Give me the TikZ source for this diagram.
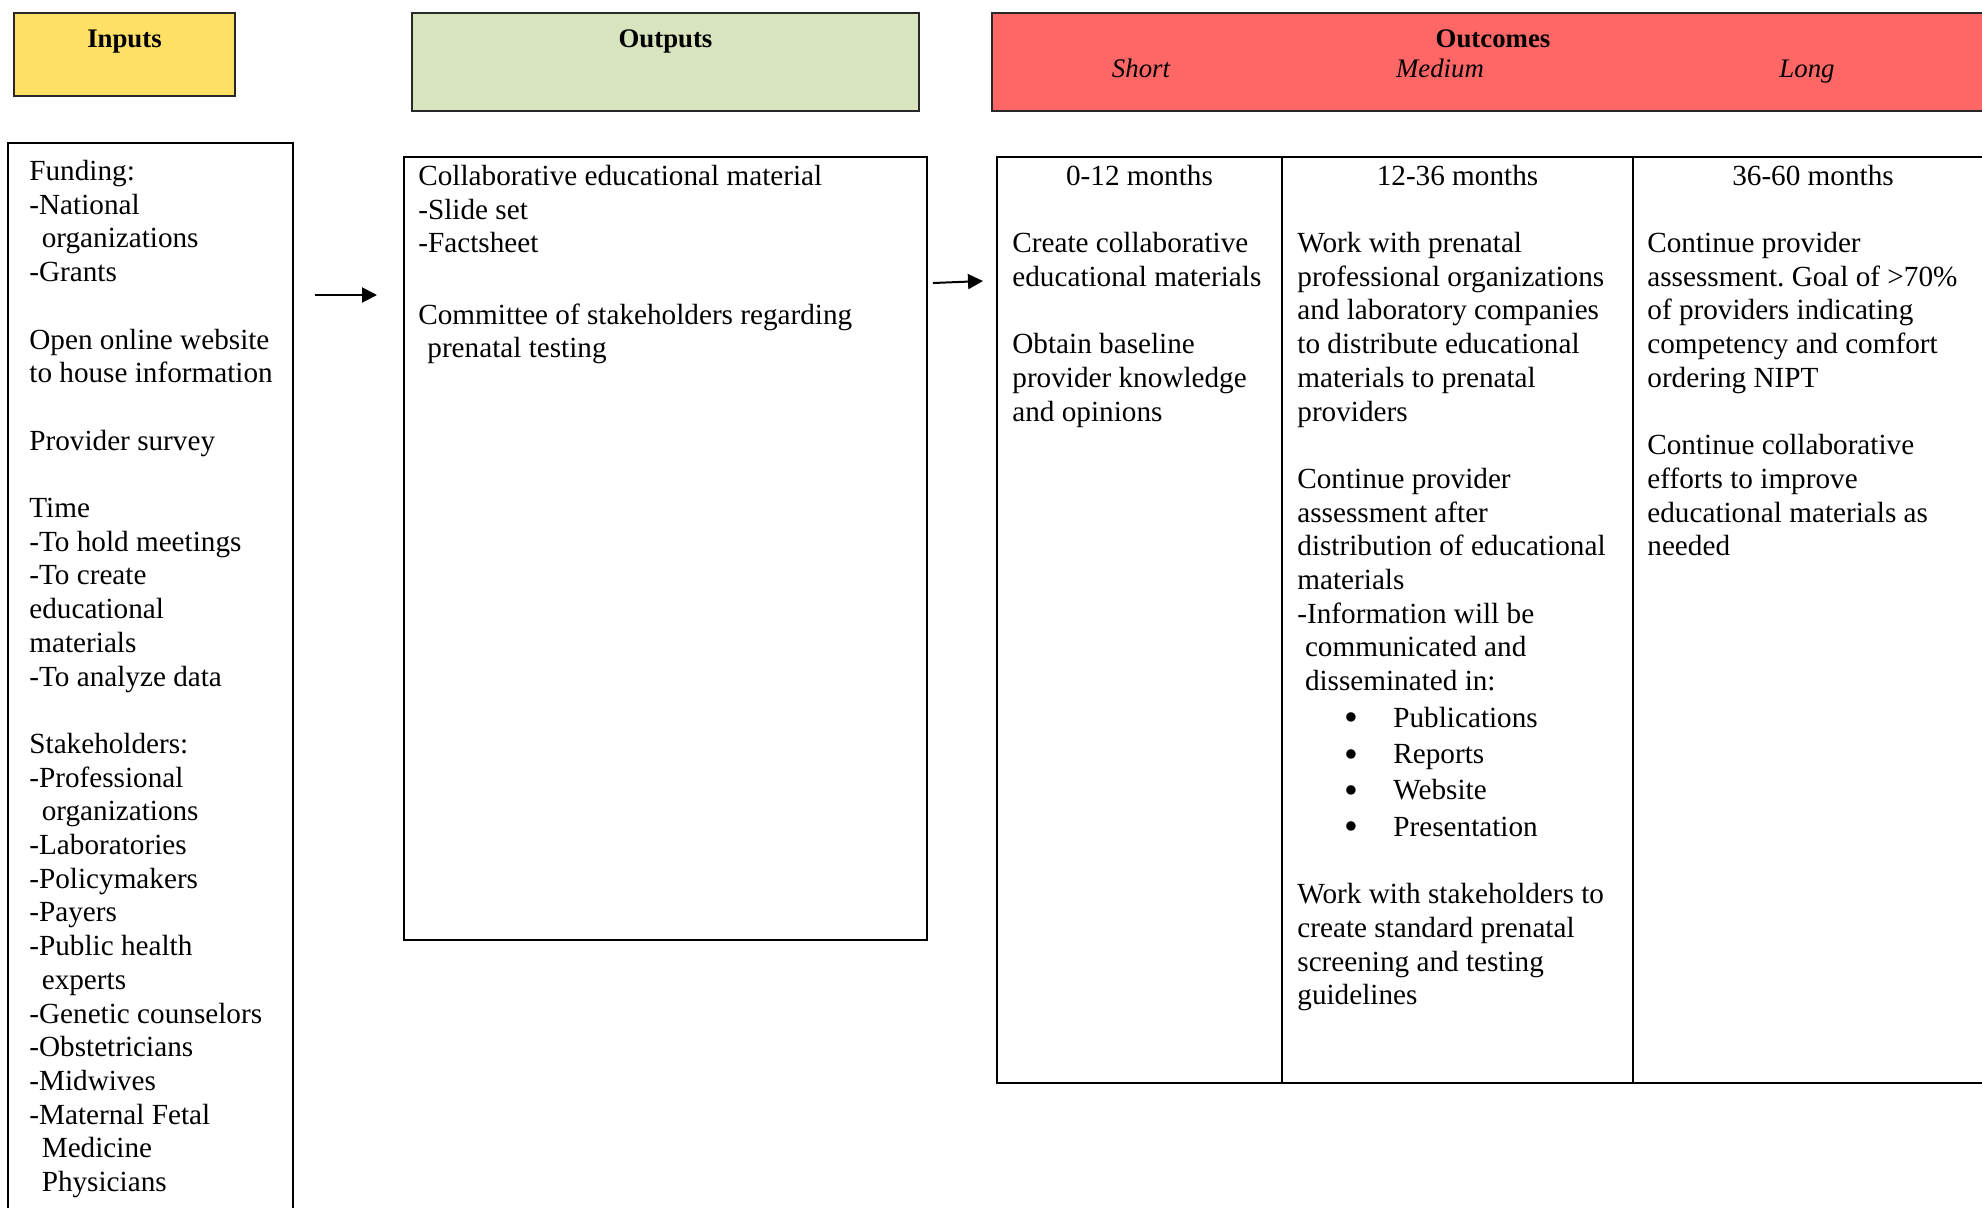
\documentclass[tikz,border=0pt]{standalone}
\usepackage{fontspec}
\usepackage{graphicx}
\setmainfont{Liberation Serif}
\usetikzlibrary{arrows.meta}
\definecolor{inyellow}{RGB}{255,224,102}
\definecolor{outgreen}{RGB}{215,228,189}
\definecolor{outcred}{RGB}{255,102,102}
\definecolor{hdrline}{RGB}{40,40,40}
\newcommand\bul[1]{\hspace*{23.5pt}\makebox[24.5pt][l]{\raisebox{-1.7pt}{\scalebox{1.35}{•}}}#1}
\frenchspacing
\begin{document}
\begin{tikzpicture}[x=0.5pt,y=-0.5pt,
  body/.style={font=\fontsize{14.6pt}{16.85pt}\selectfont\frenchspacing, inner sep=0pt, anchor=north west, align=left},
  colhead/.style={font=\fontsize{14.6pt}{16.85pt}\selectfont, inner sep=0pt, anchor=base},
  hdrtext/.style={font=\fontsize{13.4pt}{15.4pt}\selectfont\bfseries, inner sep=0pt, anchor=base},
  subtext/.style={font=\fontsize{13.4pt}{15.4pt}\selectfont\itshape, inner sep=0pt, anchor=base},
  hdrbox/.style={draw=hdrline, line width=1pt, anchor=north west, inner sep=0pt, outer sep=0pt},
  bodybox/.style={draw=black, line width=1.2pt, anchor=north west, inner sep=0pt, outer sep=0pt},
  flow/.style={line width=1pt, -{Triangle[length=7.5pt,width=7.5pt]}}
]
\useasboundingbox (0,0) rectangle (1982,1207);

% header boxes
\node[hdrbox, fill=inyellow, minimum width=110.5pt, minimum height=41.7pt] (inhdr) at (14,12.6) {};
\node[hdrbox, fill=outgreen, minimum width=253.5pt, minimum height=49.2pt] (outhdr) at (412,12.6) {};
\node[hdrbox, fill=outcred, minimum width=501pt, minimum height=49.2pt] (ochdr) at (992,12.6) {};

\node[hdrtext] (tin) at (124.5,47) {Inputs};
\node[hdrtext] (tout) at (665.5,47) {Outputs};
\node[hdrtext] (toc) at (1493,47) {Outcomes};
\node[subtext] (tshort) at (1141,77) {Short};
\node[subtext] (tmed) at (1440,77) {Medium};
\node[subtext] (tlong) at (1807,77) {Long};

% body boxes
\node[bodybox, line width=0.9pt, minimum width=142.5pt, minimum height=550pt] (inbox) at (8,143) {};
\node[bodybox, minimum width=261.5pt, minimum height=391.5pt] (outbox) at (404,157) {};
\node[bodybox, minimum width=498pt, minimum height=463pt] (tbl) at (997,157) {};
\draw[line width=1.2pt] (1282,157) -- (1282,1083);
\draw[line width=1.2pt] (1633,157) -- (1633,1083);

% arrows
\coordinate (a1s) at (315,295);
\coordinate (a1e) at (377,295);
\coordinate (a2s) at (933,283);
\coordinate (a2e) at (983,281);
\draw[flow] (a1s) -- (a1e);
\draw[flow] (a2s) -- (a2e);

% inputs text
\node[body] (intext) at (29,156.5) {\strut Funding:\\
-National\\
\hspace*{6.2pt}organizations\\
-Grants\\[16.85pt]
Open online website\\
to house information\\[16.85pt]
Provider survey\\[16.85pt]
Time\\
-To hold meetings\\
-To create\\
educational\\
materials\\
-To analyze data\\[16.85pt]
Stakeholders:\\
-Professional\\
\hspace*{6.2pt}organizations\\
-Laboratories\\
-Policymakers\\
-Payers\\
-Public health\\
\hspace*{6.2pt}experts\\
-Genetic counselors\\
-Obstetricians\\
-Midwives\\
-Maternal Fetal\\
\hspace*{6.2pt}Medicine\\
\hspace*{6.2pt}Physicians};

% outputs text
\node[body] (outtext) at (418,161.5) {\strut Collaborative educational material\\
-Slide set\\
-Factsheet\\[18.7pt]
Committee of stakeholders regarding\\
\hspace*{4.5pt}prenatal testing};

% table column heads
\node[colhead] (h1) at (1139.5,185) {0-12 months};
\node[colhead] (h2) at (1457.5,185) {12-36 months};
\node[colhead] (h3) at (1813,185) {36-60 months};

% short
\node[body] (shorttext) at (1012,228.5) {\strut Create collaborative\\
educational materials\\[16.85pt]
Obtain baseline\\
provider knowledge\\
and opinions};

% medium
\node[body] (medtext) at (1297,228.5) {\strut Work with prenatal\\
professional organizations\\
and laboratory companies\\
to distribute educational\\
materials to prenatal\\
providers\\[16.85pt]
Continue provider\\
assessment after\\
distribution of educational\\
materials\\
-Information will be\\
\hspace*{3.8pt}communicated and\\
\hspace*{3.8pt}disseminated in:\\[1.5pt]
\bul{Publications}\\[1.3pt]
\bul{Reports}\\[1.3pt]
\bul{Website}\\[1.3pt]
\bul{Presentation}\\[16.85pt]
Work with stakeholders to\\
create standard prenatal\\
screening and testing\\
guidelines};

% long
\node[body] (longtext) at (1647,228.5) {\strut Continue provider\\
assessment. Goal of >70\%\\
of providers indicating\\
competency and comfort\\
ordering NIPT\\[16.85pt]
Continue collaborative\\
efforts to improve\\
educational materials as\\
needed};
\end{tikzpicture}
\end{document}
